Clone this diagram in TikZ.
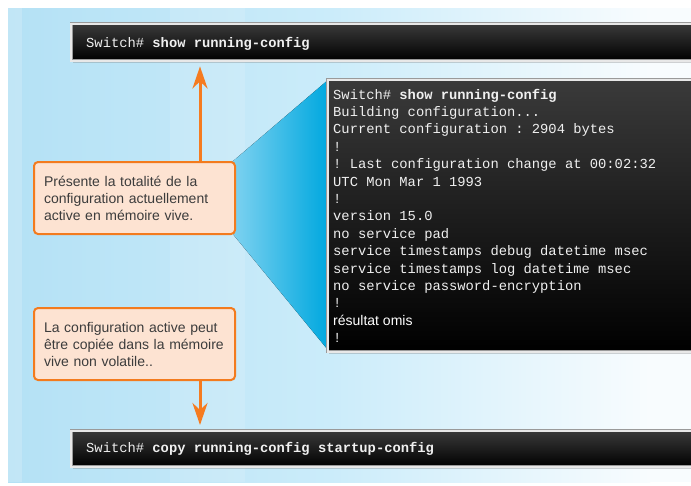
\documentclass[tikz,border=0pt]{standalone}
\usepackage{fontspec}
\setmainfont{Liberation Sans}
\setsansfont{Liberation Sans}
\setmonofont{Liberation Mono}
\usetikzlibrary{arrows.meta,shadows}

\definecolor{bgA}{HTML}{B4E1F5}
\definecolor{bgB}{HTML}{CBECFA}
\definecolor{bgC}{HTML}{F8FCFE}
\definecolor{callfill}{HTML}{FDE3D2}
\definecolor{callline}{HTML}{F37B1E}
\definecolor{arrowc}{HTML}{F57B20}
\definecolor{wedgeA}{HTML}{7FD2F0}
\definecolor{wedgeB}{HTML}{00A8DF}
\definecolor{termtop}{HTML}{3A3A3A}
\definecolor{termtxt}{HTML}{F0F0F0}
\definecolor{frameA}{HTML}{E8E8E8}
\definecolor{frameB}{HTML}{9A9A9A}
\definecolor{calltxt}{HTML}{3C3C3C}

\begin{document}
\begin{tikzpicture}[x=1pt,y=-1pt,
  term/.style={anchor=north west, inner sep=0pt, top color=termtop, bottom color=black,
    draw=frameB, double=frameA, double distance=2.2pt, line width=0.4pt,
    drop shadow={shadow xshift=1.5pt, shadow yshift=-2pt, opacity=0.35}},
  termline/.style={anchor=base west, inner sep=0pt, text=termtxt,
    font=\fontsize{13.8}{17.4}\selectfont\ttfamily},
  callout/.style={anchor=north west, draw=callline, line width=2pt, fill=callfill,
    rounded corners=4pt, minimum width=201pt, minimum height=72pt,
    inner xsep=10pt, text width=181pt, align=left, text=calltxt,
    font=\fontsize{14}{17}\selectfont\sffamily},
  arr/.style={draw=arrowc, line width=3pt,
    -{Stealth[length=22pt, width=15pt, inset=7pt]}}]

% page and backdrop
\useasboundingbox (0,0) rectangle (691,485);
\clip (0,0) rectangle (691,485);
\fill[white] (0,0) rectangle (691,485);
\fill[left color=bgA, right color=bgB] (8,8) rectangle (330,482);
\fill[left color=bgB, right color=bgC] (330,8) rectangle (650,482);
\fill[bgC] (650,8) rectangle (691,482);
\fill[white, opacity=0.18] (8,8) rectangle (22,482);
\fill[white, opacity=0.12] (170,8) rectangle (245,482);

% spotlight wedge from the first callout to the full listing
\coordinate (w1) at (232,162);
\coordinate (w2) at (328,80);
\coordinate (w3) at (328,350);
\coordinate (w4) at (232,233);
\fill[left color=wedgeA, right color=wedgeB] (w1) -- (w2) -- (w3) -- (w4) -- cycle;

% terminal windows
\node[term, minimum width=640pt, minimum height=37pt] (topbar) at (71,23.5) {};
\node[term, minimum width=400pt, minimum height=272pt] (listing) at (327.5,79.5) {};
\node[term, minimum width=640pt, minimum height=36pt] (botbar) at (71,430.5) {};

\node[termline] (toptxt) at (86,47.5) {Switch\# \textbf{show running-config}};
\node[termline] (bottxt) at (86,452.5) {Switch\# \textbf{copy running-config startup-config}};

% listing lines, 17.4pt apart
\node[termline] (tl1)  at (333, 99.0) {Switch\# \textbf{show running-config}};
\node[termline] (tl2)  at (333,116.4) {Building configuration...};
\node[termline] (tl3)  at (333,133.8) {Current configuration : 2904 bytes};
\node[termline] (tl4)  at (333,151.2) {!};
\node[termline] (tl5)  at (333,168.6) {! Last configuration change at 00:02:32};
\node[termline] (tl6)  at (333,186.0) {UTC Mon Mar 1 1993};
\node[termline] (tl7)  at (333,203.4) {!};
\node[termline] (tl8)  at (333,220.8) {version 15.0};
\node[termline] (tl9)  at (333,238.2) {no service pad};
\node[termline] (tl10) at (333,255.6) {service timestamps debug datetime msec};
\node[termline] (tl11) at (333,273.0) {service timestamps log datetime msec};
\node[termline] (tl12) at (333,290.4) {no service password-encryption};
\node[termline] (tl13) at (333,307.8) {!};
\node[termline, text=white, font=\fontsize{14}{17}\selectfont\sffamily] (tl14) at (333,325.2) {résultat omis};
\node[termline] (tl15) at (333,342.6) {!};

% explanatory callouts (each line kept whole)
\node[callout] (c1) at (33,161) {\mbox{Présente la totalité de la}\\\mbox{configuration actuellement}\\\mbox{active en mémoire vive.}};
\node[callout] (c2) at (33,307) {\mbox{La configuration active peut}\\\mbox{être copiée dans la mémoire}\\\mbox{vive non volatile..}};

% arrows
\coordinate (ax) at (200,0);
\draw[arr] (c1.north -| ax) -- ([yshift=-5.5pt]topbar.south -| ax);
\draw[arr] (c2.south -| ax) -- ([yshift=5.5pt]botbar.north -| ax);
\end{tikzpicture}
\end{document}
